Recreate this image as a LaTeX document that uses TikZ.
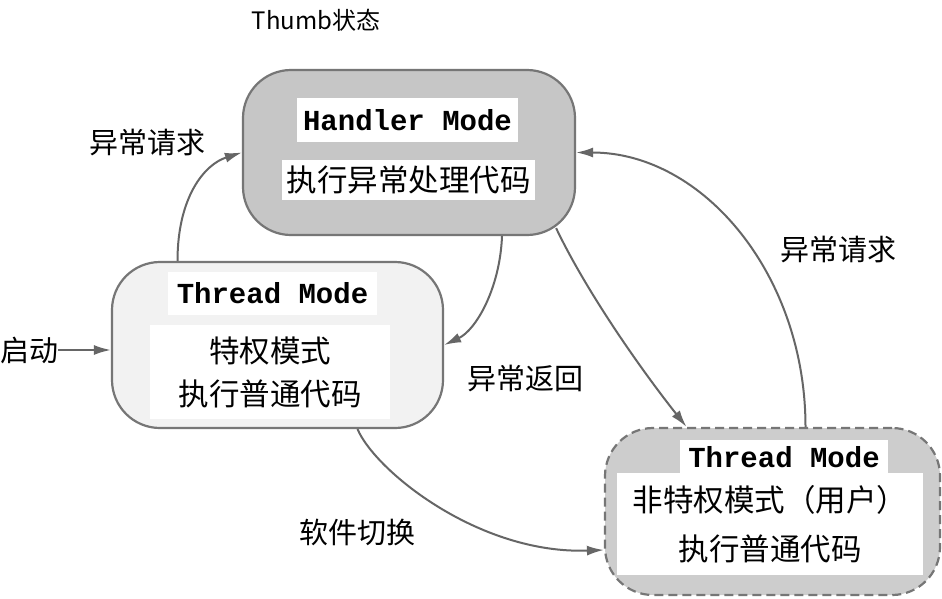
\documentclass[tikz,border=0pt]{standalone}
\usepackage{fontspec}
\setmainfont{Liberation Sans}
\newfontfamily\cjk{Noto Sans CJK SC}
\newfontfamily\modefont{Liberation Mono}
\usetikzlibrary{arrows.meta,calc}
\definecolor{edgegray}{HTML}{767676}
\definecolor{arrowgray}{HTML}{666666}
\definecolor{handlerfill}{HTML}{C6C6C6}
\definecolor{privfill}{HTML}{F2F2F2}
\definecolor{userfill}{HTML}{CDCDCD}
\begin{document}
\begin{tikzpicture}[x=1pt,y=-1pt,
  modebox/.style={draw=edgegray, line width=2.2pt, rounded corners=48pt, inner sep=0pt},
  whitebox/.style={fill=white, inner sep=0pt, align=center},
  titlebox/.style={whitebox, font=\modefont\bfseries\fontsize{29}{30}\selectfont},
  bodybox/.style={whitebox, font=\cjk\fontsize{30.5}{#1}\selectfont},
  bodybox/.default=43,
  lbl/.style={font=\cjk\fontsize{29}{30}\selectfont, inner sep=0pt},
  arr/.style={draw=arrowgray, line width=2pt, -{Latex[length=17pt,width=10pt]}}
]
\useasboundingbox (0,0) rectangle (942,598);
\fill[white] (0,0) rectangle (942,598);

% Handler mode
\node[modebox, fill=handlerfill, minimum width=332pt, minimum height=165pt] (hm) at (409,152.5) {};
\node[titlebox, minimum width=221pt, minimum height=44pt] (hmt) at (407.5,120) {Handler Mode};
\node[bodybox, minimum width=253pt, minimum height=40pt] (hmb) at (408.5,180) {执行异常处理代码};

% Thread mode, privileged
\node[modebox, fill=privfill, minimum width=331pt, minimum height=166pt] (tp) at (277.5,345) {};
\node[titlebox, minimum width=209pt, minimum height=43pt] (tpt) at (272.5,293.5) {Thread Mode};
\node[bodybox=43, minimum width=240pt, minimum height=94pt] (tpb) at (270,372) {特权模式\\执行普通代码};

% Thread mode, unprivileged (user)
\node[modebox, dashed, dash pattern=on 9pt off 5pt, fill=userfill, minimum width=335pt, minimum height=167pt] (tu) at (772.5,511.5) {};
\node[titlebox, minimum width=208pt, minimum height=36pt] (tut) at (784,457.5) {Thread Mode};
\node[bodybox=49, minimum width=306pt, minimum height=102pt] (tub) at (770,524) {非特权模式（用户）\\执行普通代码};

% Labels
\node[font=\cjk\fontsize{24}{25}\selectfont, inner sep=0pt] (thumb) at (316,20) {Thumb状态};
\node[lbl] (qd) at (29,350) {启动};
\node[lbl] (req1) at (147,143) {异常请求};
\node[lbl] (req2) at (838,250) {异常请求};
\node[lbl] (ret) at (525,378) {异常返回};
\node[lbl] (sw) at (357,532) {软件切换};

% Transitions
\draw[arr] (qd) -- (qd -| tp.west);
\draw[arr] ($(tp.north)+(-100,0)$) .. controls ($(tp.north)+(-100,-63)$) and ($(hm.west)+(-38,12)$) .. (hm.west);
\draw[arr] ($(hm.south)+(93,0)$) .. controls ($(hm.south)+(91,52)$) and ($(tp.east)+(32,-15)$) .. (tp.east);
\draw[arr] ($(hm.south east)+(-20,-8)$) .. controls ($(hm.south east)+(10,55)$) and ($(tu.north)+(-132,-58)$) .. ($(tu.north)+(-86,0)$);
\draw[arr] ($(tu.north)+(33,0)$) .. controls ($(tu.north)+(33,-152)$) and ($(hm.east)+(127,0)$) .. (hm.east);
\draw[arr] ($(tp.south)+(80,0)$) .. controls ($(tp.south)+(98,42)$) and ($(tu.west)+(-125,43)$) .. ($(tu.west)+(0,38.5)$);
\end{tikzpicture}
\end{document}
